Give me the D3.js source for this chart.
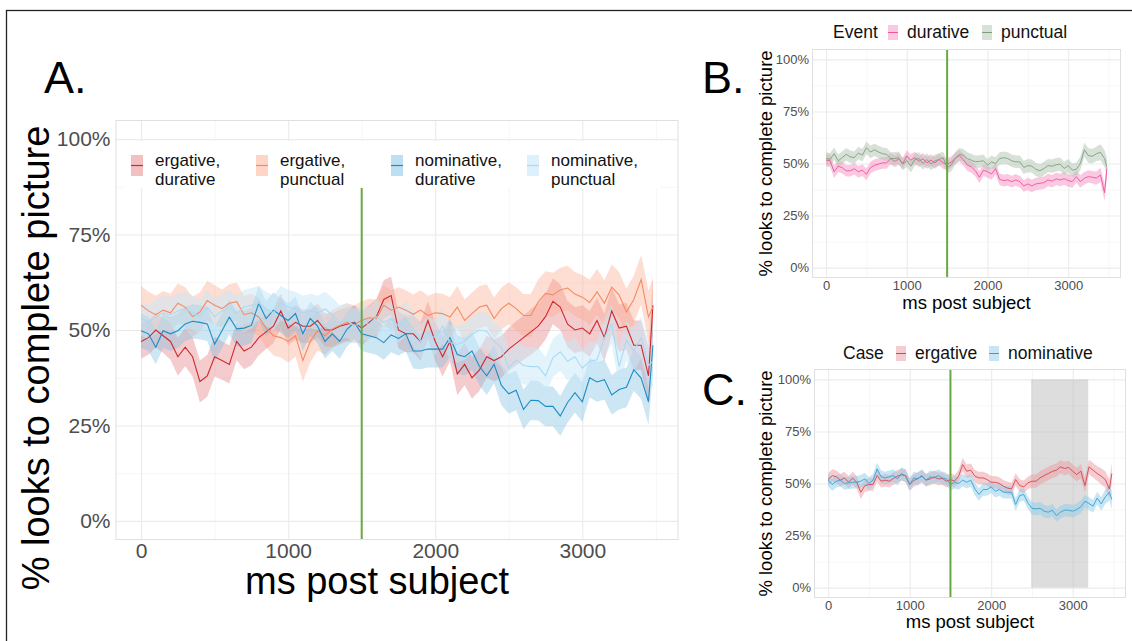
<!DOCTYPE html>
<html><head><meta charset="utf-8">
<script src="https://cdn.jsdelivr.net/npm/d3@7"></script>
<style>body{margin:0;background:#fff}svg{display:block;font-family:"Liberation Sans",Arial,sans-serif}</style>
</head><body>
<svg id="c" width="1132" height="641"></svg>
<script>
// ---------- DATA ----------
const times = [0,50,100,150,200,250,300,350,400,450,500,550,600,650,700,750,800,850,900,950,1000,1050,1100,1150,1200,1250,1300,1350,1400,1450,1500,1550,1600,1650,1700,1750,1800,1850,1900,1950,2000,2050,2100,2150,2200,2250,2300,2350,2400,2450,2500,2550,2600,2650,2700,2750,2800,2850,2900,2950,3000,3050,3100,3150,3200,3250,3300,3350,3400,3450,3480];
const xTicks = [0,1000,2000,3000];
const xMinor = [500,1500,2500,3500];
const yTicks = [0,0.25,0.5,0.75,1];
const yMinor = [0.125,0.375,0.625,0.875];
const onsetMs = 1500;
const onsetTopA = 0.872;
const sigWindow = [2490,3190];

// Panel A: case x event
const seriesA = ["ergative,\ndurative","ergative,\npunctual","nominative,\ndurative","nominative,\npunctual"];
const ergDur = [0.47,0.48,0.50,0.485,0.47,0.43,0.455,0.43,0.365,0.38,0.43,0.42,0.41,0.47,0.445,0.455,0.48,0.495,0.51,0.55,0.505,0.52,0.51,0.51,0.525,0.50,0.50,0.51,0.515,0.52,0.505,0.52,0.535,0.58,0.59,0.50,0.49,0.49,0.47,0.525,0.47,0.43,0.47,0.385,0.41,0.375,0.395,0.43,0.42,0.43,0.45,0.465,0.48,0.495,0.51,0.535,0.575,0.56,0.515,0.50,0.505,0.49,0.525,0.48,0.55,0.505,0.51,0.46,0.46,0.38,0.565];
const ergDurSE = [0.045,0.045,0.045,0.045,0.048,0.05,0.05,0.052,0.055,0.055,0.052,0.05,0.05,0.05,0.048,0.048,0.046,0.045,0.045,0.045,0.045,0.045,0.044,0.044,0.044,0.044,0.044,0.044,0.044,0.044,0.045,0.045,0.046,0.05,0.05,0.048,0.048,0.048,0.05,0.05,0.05,0.052,0.052,0.055,0.055,0.055,0.055,0.055,0.055,0.055,0.056,0.058,0.058,0.06,0.06,0.06,0.06,0.06,0.06,0.06,0.06,0.06,0.06,0.062,0.062,0.062,0.062,0.065,0.065,0.075,0.08];
const ergPun = [0.565,0.55,0.54,0.552,0.545,0.57,0.56,0.535,0.547,0.577,0.565,0.556,0.57,0.574,0.54,0.545,0.534,0.505,0.485,0.48,0.47,0.485,0.42,0.47,0.498,0.485,0.503,0.512,0.52,0.515,0.525,0.532,0.53,0.565,0.552,0.56,0.552,0.541,0.552,0.538,0.545,0.543,0.534,0.56,0.525,0.543,0.56,0.565,0.53,0.556,0.57,0.556,0.538,0.538,0.574,0.596,0.592,0.605,0.61,0.594,0.586,0.572,0.6,0.57,0.612,0.592,0.547,0.58,0.632,0.534,0.56];
const ergPunSE = [0.05,0.05,0.05,0.05,0.05,0.052,0.052,0.052,0.052,0.052,0.052,0.05,0.05,0.05,0.05,0.05,0.05,0.05,0.052,0.052,0.055,0.055,0.055,0.055,0.052,0.05,0.05,0.05,0.05,0.05,0.05,0.05,0.05,0.052,0.052,0.052,0.052,0.052,0.052,0.052,0.052,0.052,0.052,0.055,0.055,0.055,0.055,0.055,0.055,0.055,0.055,0.056,0.056,0.056,0.058,0.058,0.058,0.058,0.058,0.058,0.058,0.06,0.06,0.06,0.06,0.06,0.062,0.062,0.065,0.07,0.075];
const nomDur = [0.498,0.49,0.455,0.498,0.49,0.498,0.516,0.523,0.52,0.516,0.463,0.498,0.534,0.503,0.505,0.512,0.57,0.53,0.552,0.538,0.525,0.543,0.49,0.53,0.51,0.47,0.49,0.47,0.502,0.52,0.49,0.485,0.48,0.467,0.487,0.478,0.49,0.445,0.445,0.45,0.45,0.45,0.48,0.436,0.43,0.445,0.405,0.38,0.41,0.355,0.333,0.342,0.292,0.316,0.315,0.30,0.30,0.275,0.31,0.336,0.312,0.375,0.364,0.37,0.33,0.344,0.35,0.396,0.374,0.312,0.46];
const nomDurSE = [0.045,0.045,0.045,0.045,0.045,0.045,0.045,0.045,0.045,0.045,0.046,0.046,0.046,0.046,0.046,0.046,0.046,0.046,0.046,0.046,0.045,0.045,0.045,0.045,0.045,0.045,0.045,0.045,0.045,0.045,0.045,0.045,0.045,0.045,0.045,0.045,0.046,0.046,0.048,0.048,0.048,0.048,0.05,0.05,0.05,0.05,0.05,0.05,0.05,0.052,0.052,0.052,0.052,0.052,0.052,0.052,0.052,0.052,0.052,0.052,0.052,0.052,0.052,0.052,0.052,0.052,0.052,0.055,0.055,0.06,0.07];
const nomPun = [0.53,0.52,0.535,0.545,0.54,0.55,0.555,0.545,0.535,0.56,0.535,0.55,0.56,0.545,0.56,0.565,0.57,0.555,0.545,0.57,0.56,0.555,0.545,0.55,0.545,0.555,0.54,0.52,0.525,0.51,0.52,0.515,0.535,0.52,0.53,0.51,0.53,0.503,0.47,0.488,0.48,0.51,0.467,0.462,0.47,0.488,0.50,0.497,0.47,0.454,0.40,0.422,0.407,0.404,0.404,0.38,0.427,0.443,0.418,0.43,0.40,0.418,0.422,0.48,0.516,0.404,0.473,0.446,0.48,0.407,0.418];
const nomPunSE = [0.045,0.045,0.045,0.045,0.045,0.045,0.045,0.045,0.045,0.045,0.045,0.045,0.045,0.045,0.045,0.045,0.045,0.045,0.045,0.045,0.045,0.045,0.045,0.045,0.045,0.045,0.045,0.045,0.045,0.045,0.045,0.045,0.045,0.045,0.045,0.045,0.045,0.046,0.046,0.046,0.046,0.046,0.046,0.048,0.048,0.048,0.048,0.048,0.05,0.05,0.05,0.05,0.05,0.05,0.05,0.05,0.05,0.05,0.05,0.05,0.05,0.05,0.05,0.05,0.052,0.052,0.052,0.055,0.055,0.06,0.065];

// Panel B: event
const seriesB = ["durative","punctual"];
const durB = [0.516,0.513,0.46,0.487,0.48,0.465,0.465,0.475,0.46,0.468,0.448,0.48,0.492,0.497,0.503,0.503,0.524,0.51,0.522,0.50,0.536,0.516,0.528,0.511,0.522,0.503,0.516,0.503,0.519,0.503,0.497,0.506,0.524,0.538,0.519,0.492,0.484,0.465,0.434,0.468,0.46,0.45,0.475,0.424,0.418,0.421,0.413,0.421,0.413,0.392,0.402,0.392,0.402,0.405,0.408,0.421,0.415,0.426,0.421,0.427,0.418,0.413,0.437,0.413,0.429,0.437,0.434,0.43,0.445,0.36,0.476];
const durBSE = [0.03,0.03,0.03,0.028,0.028,0.028,0.028,0.028,0.028,0.028,0.028,0.028,0.028,0.028,0.028,0.028,0.028,0.028,0.028,0.028,0.028,0.028,0.028,0.028,0.028,0.028,0.028,0.028,0.028,0.028,0.028,0.028,0.028,0.028,0.028,0.028,0.028,0.028,0.028,0.028,0.028,0.028,0.028,0.028,0.028,0.028,0.028,0.028,0.028,0.028,0.03,0.03,0.03,0.03,0.03,0.03,0.03,0.03,0.03,0.03,0.03,0.03,0.03,0.03,0.03,0.03,0.03,0.032,0.035,0.04,0.045];
const punB = [0.524,0.52,0.547,0.513,0.528,0.544,0.532,0.528,0.55,0.54,0.576,0.555,0.566,0.555,0.547,0.544,0.524,0.524,0.528,0.497,0.513,0.487,0.519,0.524,0.50,0.519,0.497,0.513,0.519,0.528,0.481,0.492,0.524,0.544,0.54,0.524,0.516,0.508,0.51,0.513,0.492,0.508,0.50,0.524,0.528,0.524,0.513,0.508,0.508,0.481,0.49,0.487,0.472,0.465,0.476,0.49,0.487,0.494,0.497,0.476,0.49,0.468,0.472,0.50,0.566,0.538,0.535,0.547,0.554,0.524,0.481];
const punBSE = [0.03,0.03,0.03,0.03,0.03,0.03,0.03,0.03,0.03,0.03,0.03,0.03,0.03,0.03,0.03,0.03,0.03,0.03,0.03,0.03,0.03,0.03,0.03,0.03,0.03,0.03,0.03,0.03,0.03,0.03,0.03,0.03,0.03,0.03,0.03,0.03,0.03,0.03,0.03,0.03,0.03,0.03,0.03,0.03,0.03,0.03,0.03,0.03,0.03,0.032,0.032,0.032,0.032,0.032,0.032,0.032,0.032,0.032,0.032,0.032,0.032,0.032,0.032,0.032,0.035,0.035,0.035,0.035,0.038,0.04,0.045];

// Panel C: case
const seriesC = ["ergative","nominative"];
const ergC = [0.519,0.538,0.532,0.516,0.527,0.506,0.526,0.506,0.458,0.49,0.495,0.495,0.538,0.511,0.516,0.511,0.524,0.535,0.542,0.538,0.495,0.514,0.524,0.535,0.516,0.522,0.532,0.522,0.524,0.511,0.519,0.511,0.535,0.591,0.559,0.564,0.535,0.527,0.527,0.519,0.506,0.506,0.50,0.487,0.478,0.474,0.519,0.49,0.484,0.503,0.511,0.511,0.527,0.538,0.548,0.558,0.564,0.58,0.572,0.577,0.559,0.543,0.559,0.49,0.58,0.564,0.548,0.535,0.519,0.474,0.548];
const ergCSE = [0.03,0.03,0.03,0.03,0.03,0.03,0.03,0.03,0.032,0.03,0.03,0.03,0.03,0.03,0.03,0.03,0.03,0.03,0.03,0.03,0.03,0.03,0.03,0.03,0.03,0.03,0.03,0.03,0.03,0.03,0.03,0.03,0.03,0.032,0.032,0.032,0.03,0.03,0.03,0.03,0.03,0.03,0.03,0.03,0.03,0.03,0.03,0.03,0.03,0.03,0.032,0.032,0.032,0.032,0.032,0.032,0.032,0.032,0.032,0.032,0.032,0.032,0.035,0.035,0.035,0.035,0.035,0.038,0.04,0.045,0.05];
const nomC = [0.516,0.495,0.511,0.516,0.50,0.503,0.506,0.506,0.511,0.522,0.50,0.516,0.57,0.532,0.527,0.532,0.538,0.522,0.548,0.535,0.495,0.527,0.522,0.538,0.516,0.532,0.527,0.538,0.527,0.522,0.495,0.506,0.50,0.516,0.506,0.516,0.474,0.447,0.471,0.471,0.484,0.463,0.471,0.458,0.458,0.458,0.399,0.442,0.447,0.407,0.381,0.378,0.381,0.367,0.362,0.372,0.346,0.362,0.372,0.372,0.367,0.375,0.388,0.415,0.404,0.391,0.43,0.402,0.436,0.458,0.423];
const nomCSE = [0.03,0.03,0.03,0.03,0.03,0.03,0.03,0.03,0.03,0.03,0.03,0.03,0.03,0.03,0.03,0.03,0.03,0.03,0.03,0.03,0.03,0.03,0.03,0.03,0.03,0.03,0.03,0.03,0.03,0.03,0.03,0.03,0.03,0.03,0.03,0.03,0.03,0.03,0.03,0.03,0.03,0.03,0.03,0.03,0.03,0.03,0.03,0.03,0.03,0.03,0.03,0.03,0.03,0.03,0.03,0.03,0.03,0.03,0.03,0.03,0.03,0.03,0.03,0.03,0.03,0.03,0.03,0.032,0.035,0.04,0.045];

// ---------- DRAW ----------
const svg = d3.select("#c");
const FONT = '"Liberation Sans",Arial,sans-serif';

// outer frame
svg.append("rect").attr("x",6.5).attr("y",10.5).attr("width",1140).attr("height",660)
  .attr("fill","none").attr("stroke","#222").attr("stroke-width",1.3);

function panel(cfg){
  const g = svg.append("g");
  const x = d3.scaleLinear().domain([-174,3654]).range([cfg.left,cfg.right]);
  const y = d3.scaleLinear().domain([-0.05,1.05]).range([cfg.bottom,cfg.top]);
  const w = cfg.right-cfg.left, h = cfg.bottom-cfg.top;
  // minor grid
  g.append("g").attr("transform",`translate(0,${cfg.bottom})`)
    .call(d3.axisBottom(x).tickValues(xMinor).tickSize(-h).tickFormat(""))
    .call(a=>{a.select(".domain").remove();a.selectAll("line").attr("stroke","#f4f4f4").attr("stroke-width",0.8);});
  g.append("g").attr("transform",`translate(${cfg.left},0)`)
    .call(d3.axisLeft(y).tickValues(yMinor).tickSize(-w).tickFormat(""))
    .call(a=>{a.select(".domain").remove();a.selectAll("line").attr("stroke","#f4f4f4").attr("stroke-width",0.8);});
  // major grid
  g.append("g").attr("transform",`translate(0,${cfg.bottom})`)
    .call(d3.axisBottom(x).tickValues(xTicks).tickSize(-h).tickFormat(""))
    .call(a=>{a.select(".domain").remove();a.selectAll("line").attr("stroke","#ebebeb").attr("stroke-width",1.1);});
  g.append("g").attr("transform",`translate(${cfg.left},0)`)
    .call(d3.axisLeft(y).tickValues(yTicks).tickSize(-w).tickFormat(""))
    .call(a=>{a.select(".domain").remove();a.selectAll("line").attr("stroke","#ebebeb").attr("stroke-width",1.1);});
  // significance window
  if(cfg.window){
    g.append("rect").attr("x",x(cfg.window[0])).attr("width",x(cfg.window[1])-x(cfg.window[0]))
      .attr("y",y(1)).attr("height",y(0)-y(1)).attr("fill","#b4b4b4").attr("opacity",0.45);
  }
  const area = (vals,se)=>d3.area().x((d,i)=>x(times[i])).y0((d,i)=>y(vals[i]-se[i])).y1((d,i)=>y(vals[i]+se[i]))(vals);
  const line = (vals)=>d3.line().x((d,i)=>x(times[i])).y(d=>y(d))(vals);
  cfg.series.forEach(s=>{
    g.append("path").attr("d",area(s.v,s.se)).attr("fill",s.fill).attr("opacity",s.op);
  });
  cfg.series.forEach(s=>{
    g.append("path").attr("d",line(s.v)).attr("fill","none").attr("stroke",s.col).attr("stroke-width",cfg.lw);
  });
  // onset line
  g.append("line").attr("x1",x(onsetMs)).attr("x2",x(onsetMs))
    .attr("y1",cfg.onsetTop!=null ? y(cfg.onsetTop) : cfg.top).attr("y2",cfg.bottom)
    .attr("stroke","#6aa842").attr("stroke-width",2);
  // panel border
  g.append("rect").attr("x",cfg.left+0.5).attr("y",cfg.top+0.5).attr("width",w-1).attr("height",h-1)
    .attr("fill","none").attr("stroke","#e0e0e0").attr("stroke-width",1);
  // axes labels
  g.append("g").attr("transform",`translate(0,${cfg.bottom})`)
    .call(d3.axisBottom(x).tickValues(xTicks).tickSize(0).tickPadding(cfg.tpad).tickFormat(d3.format("d")))
    .call(a=>{a.select(".domain").remove();a.selectAll("text").attr("font-size",cfg.tfs).attr("fill","#4d4d4d").attr("font-family",FONT);});
  g.append("g").attr("transform",`translate(${cfg.left},0)`)
    .call(d3.axisLeft(y).tickValues(yTicks).tickSize(0).tickPadding(cfg.tpadY).tickFormat(d3.format(".0%")))
    .call(a=>{a.select(".domain").remove();a.selectAll("text").attr("font-size",cfg.tfs).attr("fill","#4d4d4d").attr("font-family",FONT);});
  // titles
  g.append("text").attr("x",(cfg.left+cfg.right)/2+cfg.xtDx).attr("y",cfg.xtY).attr("text-anchor","middle")
    .attr("font-size",cfg.ttfs).attr("fill","#000").text("ms post subject");
  g.append("text").attr("transform",`translate(${cfg.ytX},${(cfg.top+cfg.bottom)/2+cfg.ytDy}) rotate(-90)`).attr("text-anchor","middle")
    .attr("font-size",cfg.ttfs).attr("fill","#000").text("% looks to complete picture");
  return {g,x,y};
}

// Panel A
const colA = [
  {col:"#d1282e",fill:"#e8868a",op:0.42},
  {col:"#f58a62",fill:"#fca98a",op:0.38},
  {col:"#1b8ec8",fill:"#78bde0",op:0.38},
  {col:"#a9daf4",fill:"#c6e8fa",op:0.5}
];
const dataA = [[ergDur,ergDurSE],[ergPun,ergPunSE],[nomDur,nomDurSE],[nomPun,nomPunSE]];
const pA = panel({left:115.5,right:678.5,top:120,bottom:540,lw:1.1,tfs:21,tpad:3,tpadY:5,ttfs:38,xtY:594,xtDx:-20,ytX:49,ytDy:28,onsetTop:onsetTopA,
  series:dataA.map((d,i)=>({v:d[0],se:d[1],...colA[i]}))});
// legend A (inside)
const lgA = svg.append("g");
lgA.append("rect").attr("x",124).attr("y",141).attr("width",536).attr("height",47).attr("fill","#fff");
const legAx = [131,256,391,527];
seriesA.forEach((name,i)=>{
  const kx = legAx[i];
  lgA.append("rect").attr("x",kx).attr("y",155).attr("width",12).attr("height",21).attr("fill",colA[i].fill).attr("opacity",colA[i].op+0.1);
  lgA.append("line").attr("x1",kx).attr("x2",kx+12).attr("y1",165.5).attr("y2",165.5).attr("stroke",colA[i].col).attr("stroke-width",1.2);
  const t = lgA.append("text").attr("x",kx+24).attr("y",166).attr("font-size",17).attr("fill","#111");
  name.split("\n").forEach((ln,j)=>t.append("tspan").attr("x",kx+24).attr("dy",j?19:0).text(ln));
});

// Panel B
const colB = [{col:"#f0549b",fill:"#f59ac8",op:0.55},{col:"#7f9e7f",fill:"#b6c9b6",op:0.55}];
const pB = panel({left:812,right:1121,top:49,bottom:278,lw:0.9,tfs:13,tpad:3,tpadY:3,ttfs:18.5,xtY:309,xtDx:0,ytX:772,ytDy:0,
  series:[[durB,durBSE],[punB,punBSE]].map((d,i)=>({v:d[0],se:d[1],...colB[i]}))});
function topLegend(title,names,cols,titleX,keyXs,baseY){
  const lg = svg.append("g");
  lg.append("text").attr("x",titleX).attr("y",baseY).attr("font-size",17.5).attr("fill","#111").text(title);
  names.forEach((n,i)=>{
    lg.append("rect").attr("x",keyXs[i]).attr("y",baseY-13).attr("width",10).attr("height",15).attr("fill",cols[i].fill).attr("opacity",cols[i].op);
    lg.append("line").attr("x1",keyXs[i]).attr("x2",keyXs[i]+10).attr("y1",baseY-5.5).attr("y2",baseY-5.5).attr("stroke",cols[i].col).attr("stroke-width",1);
    lg.append("text").attr("x",keyXs[i]+19).attr("y",baseY).attr("font-size",17.5).attr("fill","#111").text(n);
  });
}
topLegend("Event",seriesB,colB,833,[888,982],38);

// Panel C
const colC = [{col:"#d9434f",fill:"#eb9aa0",op:0.5},{col:"#35a2d6",fill:"#8fcbe8",op:0.5}];
const pC = panel({left:814,right:1126,top:369,bottom:598,lw:0.9,tfs:13,tpad:3,tpadY:3,ttfs:18.5,xtY:628,xtDx:0,ytX:772,ytDy:0,window:sigWindow,
  series:[[ergC,ergCSE],[nomC,nomCSE]].map((d,i)=>({v:d[0],se:d[1],...colC[i]}))});
topLegend("Case",seriesC,colC,843,[896,989],359);

// panel letters
[["A.",44,93],["B.",702,93],["C.",702,405]].forEach(([t,x,y])=>{
  svg.append("text").attr("x",x).attr("y",y).attr("font-size",45).attr("fill","#000").text(t);
});
</script>
</body></html>
